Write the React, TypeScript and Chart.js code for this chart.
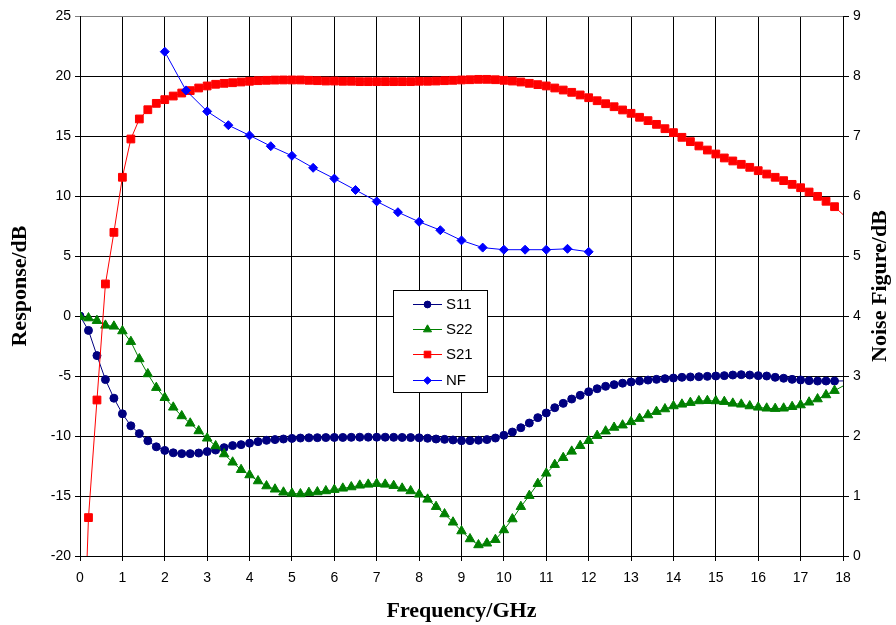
import React, { useEffect, useRef } from "react";
import { Chart, registerables } from "chart.js";

Chart.register(...registerables);

const FREQ = [
  0, 0.2, 0.4, 0.6, 0.8, 1, 1.2, 1.4, 1.6, 1.8,
  2, 2.2, 2.4, 2.6, 2.8, 3, 3.2, 3.4, 3.6, 3.8,
  4, 4.2, 4.4, 4.6, 4.8, 5, 5.2, 5.4, 5.6, 5.8,
  6, 6.2, 6.4, 6.6, 6.8, 7, 7.2, 7.4, 7.6, 7.8,
  8, 8.2, 8.4, 8.6, 8.8, 9, 9.2, 9.4, 9.6, 9.8,
  10, 10.2, 10.4, 10.6, 10.8, 11, 11.2, 11.4, 11.6, 11.8,
  12, 12.2, 12.4, 12.6, 12.8, 13, 13.2, 13.4, 13.6, 13.8,
  14, 14.2, 14.4, 14.6, 14.8, 15, 15.2, 15.4, 15.6, 15.8,
  16, 16.2, 16.4, 16.6, 16.8, 17, 17.2, 17.4, 17.6, 17.8,
  18.2,
];

const S11 = [
  0, -1.2, -3.3, -5.3, -6.85, -8.15, -9.15, -9.8, -10.4, -10.9,
  -11.2, -11.4, -11.47, -11.47, -11.42, -11.3, -11.17, -10.97, -10.8, -10.72,
  -10.6, -10.47, -10.36, -10.3, -10.25, -10.2, -10.17, -10.15, -10.14, -10.13,
  -10.12, -10.12, -10.11, -10.1, -10.1, -10.1, -10.1, -10.11, -10.12, -10.13,
  -10.15, -10.19, -10.25, -10.28, -10.33, -10.39, -10.39, -10.35, -10.3, -10.17,
  -9.94, -9.67, -9.31, -8.92, -8.47, -8.08, -7.64, -7.28, -6.92, -6.61,
  -6.31, -6.06, -5.86, -5.72, -5.6, -5.5, -5.42, -5.34, -5.28, -5.22,
  -5.17, -5.11, -5.08, -5.06, -5.03, -5.0, -4.97, -4.92, -4.89, -4.92,
  -4.97, -5.0, -5.11, -5.19, -5.28, -5.33, -5.39, -5.42, -5.42, -5.42,
  -5.4,
];

const S22 = [
  -0.05, -0.17, -0.39, -0.78, -0.86, -1.25, -2.14, -3.58, -4.83, -5.97,
  -6.81, -7.61, -8.33, -8.94, -9.58, -10.19, -10.83, -11.5, -12.19, -12.81,
  -13.25, -13.75, -14.17, -14.44, -14.69, -14.78, -14.83, -14.72, -14.67, -14.58,
  -14.47, -14.36, -14.25, -14.11, -14.03, -13.97, -14.03, -14.14, -14.36, -14.58,
  -14.86, -15.28, -15.89, -16.5, -17.19, -17.92, -18.58, -19.08, -18.94, -18.64,
  -17.83, -16.92, -15.89, -14.97, -13.97, -13.11, -12.39, -11.81, -11.28, -10.81,
  -10.39, -9.97, -9.6, -9.29, -9.1, -8.82, -8.55, -8.25, -7.97, -7.75,
  -7.5, -7.36, -7.22, -7.08, -7.06, -7.08, -7.14, -7.28, -7.36, -7.5,
  -7.61, -7.69, -7.72, -7.69, -7.56, -7.42, -7.19, -6.92, -6.58, -6.22,
  -5.45,
];

const S21 = [
  -37, -16.8, -7.0, 2.67, 6.97, 11.56, 14.75, 16.42, 17.19, 17.72,
  18.03, 18.33, 18.58, 18.78, 19.0, 19.17, 19.31, 19.39, 19.44, 19.5,
  19.56, 19.61, 19.64, 19.66, 19.67, 19.67, 19.67, 19.64, 19.61, 19.58,
  19.58, 19.56, 19.56, 19.53, 19.53, 19.53, 19.53, 19.53, 19.53, 19.53,
  19.56, 19.56, 19.58, 19.61, 19.64, 19.67, 19.69, 19.72, 19.72, 19.69,
  19.64, 19.58, 19.5, 19.39, 19.28, 19.17, 19.0, 18.83, 18.64, 18.42,
  18.19, 17.94, 17.69, 17.44, 17.17, 16.89, 16.56, 16.28, 15.97, 15.61,
  15.28, 14.89, 14.53, 14.17, 13.83, 13.5, 13.17, 12.92, 12.64, 12.39,
  12.11, 11.83, 11.56, 11.28, 10.97, 10.69, 10.33, 9.97, 9.56, 9.11,
  7.8,
];

const NF_FREQ = [2, 2.5, 3, 3.5, 4, 4.5, 5, 5.5, 6, 6.5, 7, 7.5, 8, 8.5, 9, 9.5, 10, 10.5, 11, 11.5, 12];
const NF = [8.405, 7.76, 7.41, 7.18, 7.01, 6.83, 6.67, 6.47, 6.29, 6.1, 5.91, 5.73, 5.57, 5.43, 5.26, 5.14, 5.105, 5.105, 5.105, 5.12, 5.07];

const SERIES_NAMES = ["S11", "S22", "S21", "NF"];
const X_TITLE = "Frequency/GHz";
const Y_TITLE = "Response/dB";
const Y1_TITLE = "Noise Figure/dB";

const COLORS = ["#000080", "#008000", "#FF0000", "#0000FF"];
const STYLES = ["circle", "triangle", "rect", "rectRot"];
const RADII = [4, 5.5, 5.5, 4.5];

const TICK_FONT = { family: "'Liberation Sans', Arial, sans-serif", size: 14 };
const TITLE_FONT = "bold 22px 'Liberation Serif', 'Times New Roman', serif";

function drawMarker(ctx: CanvasRenderingContext2D, style: string, x: number, y: number, r: number, color: string) {
  ctx.save();
  ctx.fillStyle = color;
  ctx.strokeStyle = color;
  ctx.lineWidth = 1;
  ctx.beginPath();
  if (style === "circle") {
    ctx.arc(x, y, r, 0, Math.PI * 2);
  } else if (style === "triangle") {
    for (let i = 0; i < 3; i++) {
      const a = (i * 2 * Math.PI) / 3;
      const px = x + Math.sin(a) * r;
      const py = y - Math.cos(a) * r;
      if (i === 0) ctx.moveTo(px, py);
      else ctx.lineTo(px, py);
    }
    ctx.closePath();
  } else if (style === "rect") {
    const s = Math.SQRT1_2 * r;
    ctx.rect(x - s, y - s, 2 * s, 2 * s);
  } else {
    ctx.moveTo(x - r, y);
    ctx.lineTo(x, y - r);
    ctx.lineTo(x + r, y);
    ctx.lineTo(x, y + r);
    ctx.closePath();
  }
  ctx.fill();
  ctx.stroke();
  ctx.restore();
}

const overlayPlugin = {
  id: "overlay",
  afterDraw(chart: any) {
    const ctx: CanvasRenderingContext2D = chart.ctx;
    const area = chart.chartArea;
    ctx.save();
    ctx.fillStyle = "#000";
    ctx.font = TITLE_FONT;
    ctx.textAlign = "center";
    ctx.textBaseline = "middle";
    ctx.fillText(X_TITLE, (area.left + area.right) / 2, 611);

    ctx.save();
    ctx.translate(20, (area.top + area.bottom) / 2);
    ctx.rotate(-Math.PI / 2);
    ctx.fillText(Y_TITLE, 0, 0);
    ctx.restore();

    ctx.save();
    ctx.translate(880, (area.top + area.bottom) / 2);
    ctx.rotate(-Math.PI / 2);
    ctx.fillText(Y1_TITLE, 0, 0);
    ctx.restore();

    // legend box
    const bx = 393.5, by = 290.5, bw = 94, bh = 102;
    ctx.fillStyle = "#fff";
    ctx.fillRect(bx, by, bw, bh);
    ctx.strokeStyle = "#000";
    ctx.lineWidth = 1;
    ctx.strokeRect(bx, by, bw, bh);
    const rows = [304, 329, 354, 380];
    SERIES_NAMES.forEach((name, i) => {
      const y = rows[i];
      ctx.strokeStyle = COLORS[i];
      ctx.lineWidth = 1;
      ctx.beginPath();
      ctx.moveTo(413, y + 0.5);
      ctx.lineTo(442, y + 0.5);
      ctx.stroke();
      drawMarker(ctx, STYLES[i], 427.5, y + 0.5, RADII[i] * 0.85, COLORS[i]);
      ctx.fillStyle = "#000";
      ctx.font = "15px 'Liberation Sans', Arial, sans-serif";
      ctx.textAlign = "left";
      ctx.textBaseline = "middle";
      ctx.fillText(name, 446, y + 1);
    });
    ctx.restore();
  },
};

export default function App() {
  const ref = useRef<HTMLCanvasElement | null>(null);

  useEffect(() => {
    if (!ref.current) return;
    const mk = (vals: number[]) => FREQ.map((f, i) => ({ x: f, y: vals[i] }));
    const seriesVals = [S11, S22, S21];
    const datasets: any[] = seriesVals.map((vals, i) => ({
      label: SERIES_NAMES[i],
      data: mk(vals),
      borderColor: COLORS[i],
      backgroundColor: COLORS[i],
      borderWidth: 1,
      pointStyle: STYLES[i],
      pointRadius: RADII[i],
      pointBorderWidth: 1,
      tension: 0,
      yAxisID: "y",
      order: 4 - i,
    }));
    datasets.push({
      label: SERIES_NAMES[3],
      data: NF_FREQ.map((f, i) => ({ x: f, y: NF[i] })),
      borderColor: COLORS[3],
      backgroundColor: COLORS[3],
      borderWidth: 1,
      pointStyle: STYLES[3],
      pointRadius: RADII[3],
      pointBorderWidth: 1,
      tension: 0,
      yAxisID: "y1",
      order: 1,
    });

    const chart = new Chart(ref.current, {
      type: "line",
      data: { datasets },
      plugins: [overlayPlugin],
      options: {
        animation: false,
        responsive: true,
        maintainAspectRatio: false,
        devicePixelRatio: 1,
        layout: { padding: { top: 16, left: 0, right: 0, bottom: 0 } },
        plugins: {
          legend: { display: false },
          tooltip: { enabled: false },
        },
        scales: {
          x: {
            type: "linear",
            min: 0,
            max: 18,
            ticks: { stepSize: 1, color: "#000", font: TICK_FONT, padding: 9, maxRotation: 0 },
            grid: { color: "#000", lineWidth: 1, tickLength: 5 },
            border: { color: "#000", width: 1 },
            afterFit: (s: any) => { s.height = 69; },
          },
          y: {
            type: "linear",
            position: "left",
            min: -20,
            max: 25,
            ticks: { stepSize: 5, color: "#000", font: TICK_FONT, padding: 4 },
            grid: {
              color: (c: any) => (c.tick && c.tick.value === 25 ? "#808080" : "#000"),
              lineWidth: 1,
              tickLength: 5,
            },
            border: { color: "#000", width: 1 },
            afterFit: (s: any) => { s.width = 80; },
          },
          y1: {
            type: "linear",
            position: "right",
            min: 0,
            max: 9,
            ticks: { stepSize: 1, color: "#000", font: TICK_FONT, padding: 4 },
            grid: { drawOnChartArea: false, color: "#000", tickLength: 6 },
            border: { color: "#000", width: 1 },
            afterFit: (s: any) => { s.width = 53; },
          },
        },
      },
    });
    return () => chart.destroy();
  }, []);

  return (
    <div style={{ position: "fixed", left: 0, top: 0, width: 896, height: 625, background: "#fff" }}>
      <canvas ref={ref} />
    </div>
  );
}
